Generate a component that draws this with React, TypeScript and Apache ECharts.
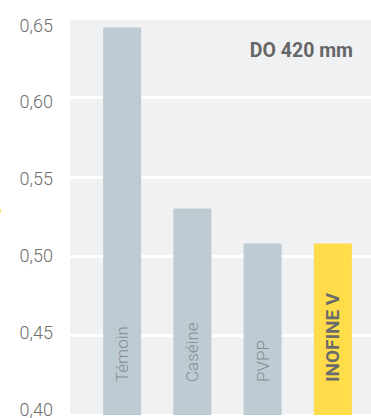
import React, { useEffect, useRef } from "react";
import * as echarts from "echarts";

const categories = ["Témoin", "Caséine", "PVPP", "INOFINE V"];
const values = [0.644, 0.53, 0.508, 0.508];
const barColors = ["#bfcbd3", "#bfcbd3", "#bfcbd3", "#ffdd4a"];
const highlight = [false, false, false, true];
const yMin = 0.4;
const yMax = 0.65;
const yStep = 0.05;
const titleText = "DO 420 mm";

export default function App() {
  const ref = useRef<HTMLDivElement>(null);
  useEffect(() => {
    if (!ref.current) return;
    const chart = echarts.init(ref.current, null, { renderer: "svg" });
    const font = "Roboto, 'Noto Sans', sans-serif";
    chart.setOption({
      animation: false,
      backgroundColor: "#ffffff",
      textStyle: { fontFamily: font },
      title: {
        text: titleText,
        right: 13,
        top: 35,
        textStyle: { fontFamily: font, fontSize: 19.5, fontWeight: "bold", color: "#666666" },
      },
      graphic: [
        { type: "circle", shape: { cx: -2, cy: 211, r: 3 }, style: { fill: "#ffdd4a" } },
      ],
      grid: [
        { left: 87, right: 3, top: 18, bottom: 3 },
        { left: 70, right: 0, top: 18, bottom: 3, show: true, backgroundColor: "#f0f1f3", borderWidth: 0, z: 0 },
        { left: 70, right: 0, top: 25, bottom: 4 },
      ],
      xAxis: [
        { type: "category", data: categories, gridIndex: 0, show: false },
        { type: "value", gridIndex: 1, show: false },
        { type: "value", gridIndex: 2, show: false },
      ],
      yAxis: [
        { type: "value", gridIndex: 0, min: yMin, max: yMax, interval: yStep, show: false, splitLine: { show: false } },
        {
          type: "value", gridIndex: 1, min: yMin, max: yMax, interval: yStep,
          axisLine: { show: false }, axisTick: { show: false }, axisLabel: { show: false },
          splitLine: { show: true, lineStyle: { color: "#ffffff", width: 3 } },
        },
        {
          type: "value", gridIndex: 2, min: yMin, max: yMax, interval: yStep,
          axisLine: { show: false }, axisTick: { show: false }, splitLine: { show: false },
          axisLabel: {
            margin: 17, fontSize: 18, color: "#6e6e6e", fontFamily: font, fontWeight: 300,
            formatter: (v: number) => v.toFixed(2).replace(".", ","),
          },
        },
      ],
      series: [
        {
          type: "bar",
          xAxisIndex: 0,
          yAxisIndex: 0,
          barWidth: 38,
          z: 3,
          data: values.map((v, i) => ({
            value: v,
            itemStyle: { color: barColors[i] },
            label: highlight[i]
              ? { fontWeight: "bold", color: "#6b6b6b", fontSize: 19 }
              : { fontWeight: 300, color: "#7f8e98", fontSize: 17 },
          })),
          label: {
            show: true,
            position: "insideBottom",
            rotate: 90,
            align: "left",
            verticalAlign: "middle",
            distance: 33,
            formatter: "{b}",
            fontFamily: font,
          },
        },
      ],
    });
    return () => chart.dispose();
  }, []);
  return (
    <div
      ref={ref}
      style={{ position: "fixed", left: 0, top: 0, width: 371, height: 418 }}
    />
  );
}
